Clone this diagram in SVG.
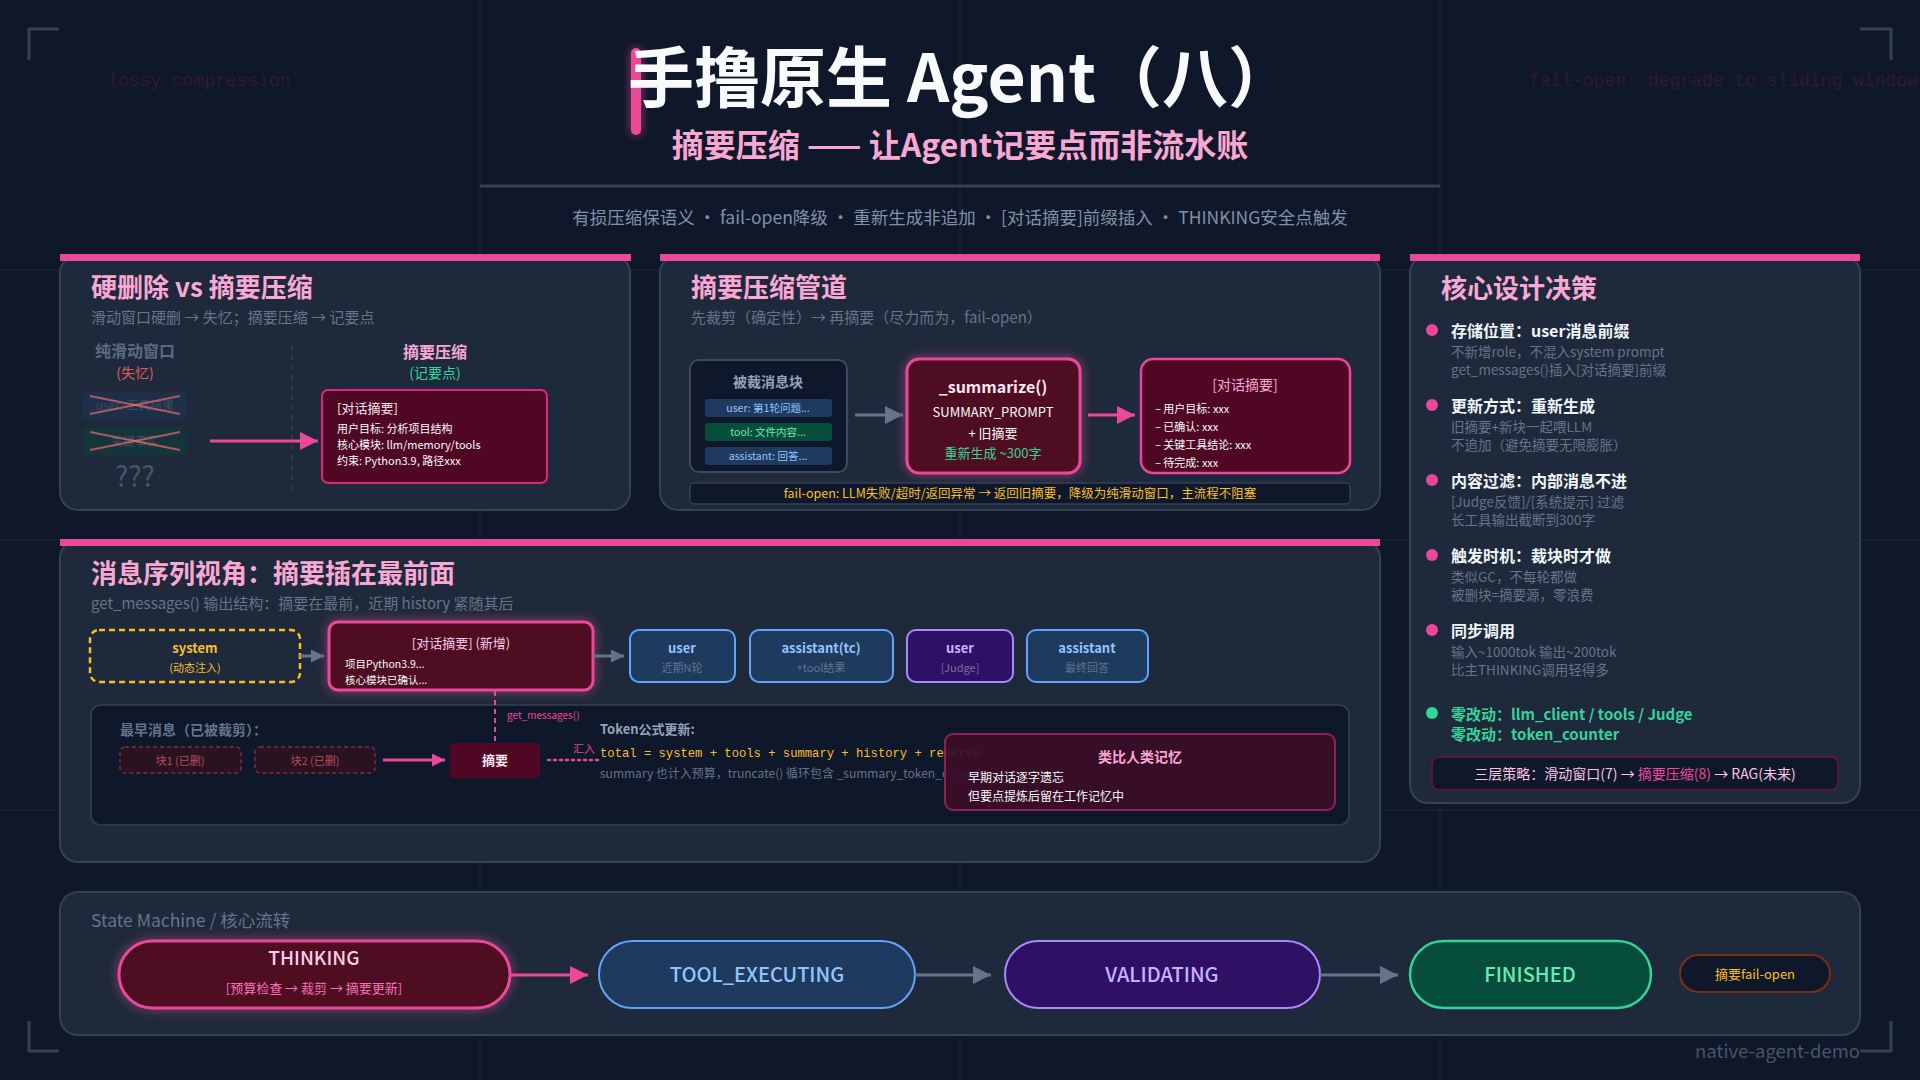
<svg xmlns="http://www.w3.org/2000/svg" width="1920" height="1080" viewBox="0 0 1920 1080">
<defs>
<style>
text{font-family:"Noto Sans CJK SC","Noto Sans",sans-serif}
.mono{font-family:"Liberation Mono","DejaVu Sans Mono",monospace}
.panel{fill:#1e293b;stroke:#334155;stroke-width:2}
.pbar{fill:#ec4899}
.ptitle{font-size:26px;font-weight:700;fill:#f9a8d4}
.psub{font-size:15px;fill:#64748b}
.grid{stroke:#1a2435;stroke-width:1.5}
.corner{fill:none;stroke:#334155;stroke-width:3}
.pinkbox{fill:#500724;stroke:#ec4899;stroke-width:3}
.bluebox{fill:#1e3a5f;stroke:#60a5fa;stroke-width:2}
.purplebox{fill:#2e1065;stroke:#a78bfa;stroke-width:2}
.greenbox{fill:#064e3b;stroke:#34d399;stroke-width:2.5}
.dot{fill:#ec4899}
.dtitle{font-size:16px;font-weight:700;fill:#f1f5f9}
.ddesc{font-size:13.5px;fill:#64748b}
.c{text-anchor:middle}
.wline{fill:#f8fafc}
.state{font-size:20px;font-weight:500}
.pk-line{stroke:#ec4899;stroke-width:3;fill:none}
.gy-line{stroke:#64748b;stroke-width:3;fill:none}
</style>
<filter id="glow" x="-30%" y="-40%" width="160%" height="180%">
<feDropShadow dx="0" dy="0" stdDeviation="6" flood-color="#ec4899" flood-opacity="0.55"/>
</filter>
<filter id="glowbar" x="-200%" y="-20%" width="500%" height="140%">
<feDropShadow dx="0" dy="0" stdDeviation="5" flood-color="#ec4899" flood-opacity="0.7"/>
</filter>
<marker id="apL" markerUnits="userSpaceOnUse" markerWidth="18" markerHeight="18" refX="18" refY="9" orient="auto"><path d="M0,0 L18,9 L0,18 z" fill="#ec4899"/></marker>
<marker id="agL" markerUnits="userSpaceOnUse" markerWidth="18" markerHeight="18" refX="18" refY="9" orient="auto"><path d="M0,0 L18,9 L0,18 z" fill="#64748b"/></marker>
<marker id="apS" markerUnits="userSpaceOnUse" markerWidth="13" markerHeight="13" refX="13" refY="6.5" orient="auto"><path d="M0,0 L13,6.5 L0,13 z" fill="#ec4899"/></marker>
<marker id="agS" markerUnits="userSpaceOnUse" markerWidth="13" markerHeight="13" refX="13" refY="6.5" orient="auto"><path d="M0,0 L13,6.5 L0,13 z" fill="#64748b"/></marker>
</defs>

<rect x="0" y="0" width="1920" height="1080" fill="#0f172a"/>
<g id="grid">
<line class="grid" x1="480" y1="0" x2="480" y2="1080"/>
<line class="grid" x1="960" y1="0" x2="960" y2="1080"/>
<line class="grid" x1="1440" y1="0" x2="1440" y2="1080"/>
<line class="grid" x1="0" y1="270" x2="1920" y2="270"/>
<line class="grid" x1="0" y1="540" x2="1920" y2="540"/>
<line class="grid" x1="0" y1="810" x2="1920" y2="810"/>
</g>
<g id="corners">
<path class="corner" d="M29,60 V29 H59"/>
<path class="corner" d="M1860,29 H1891 V60"/>
<path class="corner" d="M29,1021 V1051 H59"/>
<path class="corner" d="M1860,1051 H1891 V1021"/>
</g>
<text class="mono" x="107" y="86" font-size="18" fill="#be185d" fill-opacity="0.22">lossy compression</text>
<text class="mono" x="1529" y="86" font-size="18" fill="#be185d" fill-opacity="0.22">fail-open: degrade to sliding window</text>

<g id="header">
<rect x="631" y="48" width="10" height="87" rx="5" fill="#ec4899" filter="url(#glowbar)"/>
<text x="961" y="102" class="c" font-size="66" font-weight="700" fill="#f8fafc">手撸原生 Agent（八）</text>
<text x="960" y="157" class="c" font-size="32" font-weight="700" fill="#f9a8d4">摘要压缩 —— 让Agent记要点而非流水账</text>
<line x1="480" y1="186" x2="1440" y2="186" stroke="#334155" stroke-width="3"/>
<text x="960" y="224" class="c" font-size="17.5" fill="#8190a5">有损压缩保语义 · fail-open降级 · 重新生成非追加 · [对话摘要]前缀插入 · THINKING安全点触发</text>
</g>

<!-- Panel 1 -->
<g id="panel-hard-vs-summary">
<rect class="panel" x="60" y="255" width="570" height="255" rx="18"/>
<rect class="pbar" x="60" y="254" width="571" height="7"/>
<text class="ptitle" x="91" y="297">硬删除 vs 摘要压缩</text>
<text class="psub" x="91" y="323">滑动窗口硬删 → 失忆；摘要压缩 → 记要点</text>
<text x="135" y="357" class="c" font-size="16" font-weight="700" fill="#5b6b82">纯滑动窗口</text>
<text x="135" y="378" class="c" font-size="14" fill="#e25c5c">(失忆)</text>
<rect x="83" y="392" width="104" height="27" rx="4" fill="#1e3a5f" fill-opacity="0.4"/>
<text x="135" y="410" class="c" font-size="12" fill="#3c4a5e">user: 工具结果</text>
<rect x="83" y="427" width="104" height="28" rx="4" fill="#064e3b" fill-opacity="0.35"/>
<text x="135" y="446" class="c" font-size="12" fill="#3c4a5e">关键事实</text>
<g stroke="#f87171" stroke-opacity="0.65" stroke-width="2">
<line x1="90" y1="396" x2="180" y2="414"/><line x1="90" y1="414" x2="180" y2="396"/>
<line x1="90" y1="432" x2="180" y2="450"/><line x1="90" y1="450" x2="180" y2="432"/>
</g>
<text x="135" y="487" class="c" font-size="28" fill="#475569">???</text>
<line x1="292" y1="345" x2="292" y2="493" stroke="#334155" stroke-width="1.5" stroke-dasharray="5,5"/>
<text x="435" y="358" class="c" font-size="16" font-weight="700" fill="#f9a8d4">摘要压缩</text>
<text x="435" y="378" class="c" font-size="14" fill="#34d399">(记要点)</text>
</g>
<g id="node-summary-example">
<rect x="322" y="390" width="225" height="93" rx="6" fill="#500724" stroke="#db2777" stroke-width="2"/>
<text x="337" y="413" font-size="13" fill="#fce7f3">[对话摘要]</text>
<text x="337" y="433" font-size="11" class="wline">用户目标: 分析项目结构</text>
<text x="337" y="449" font-size="11" class="wline">核心模块: llm/memory/tools</text>
<text x="337" y="465" font-size="11" class="wline">约束: Python3.9, 路径xxx</text>
</g>

<!-- Panel 2 -->
<g id="panel-pipeline">
<rect class="panel" x="660" y="255" width="720" height="255" rx="18"/>
<rect class="pbar" x="660" y="254" width="720" height="7"/>
<text class="ptitle" x="691" y="297">摘要压缩管道</text>
<text class="psub" x="691" y="323">先裁剪（确定性）→ 再摘要（尽力而为，fail-open）</text>
</g>
<g id="node-trimmed">
<rect x="690" y="360" width="157" height="112" rx="9" fill="#0f172a" stroke="#3b4a60" stroke-width="2"/>
<text x="768" y="387" class="c" font-size="14" font-weight="700" fill="#94a3b8">被裁消息块</text>
<rect x="705" y="399" width="127" height="18" rx="3" fill="#1e3a5f"/>
<text x="768" y="412" class="c" font-size="10.5" fill="#93c5fd">user: 第1轮问题...</text>
<rect x="705" y="423" width="127" height="18" rx="3" fill="#064e3b"/>
<text x="768" y="436" class="c" font-size="10.5" fill="#6ee7b7">tool: 文件内容...</text>
<rect x="705" y="447" width="127" height="18" rx="3" fill="#1e3a5f"/>
<text x="768" y="460" class="c" font-size="10.5" fill="#93c5fd">assistant: 回答...</text>
</g>
<g id="node-summarize">
<rect class="pinkbox" x="907" y="359" width="173" height="114" rx="12" filter="url(#glow)"/>
<text x="993" y="393" class="c" font-size="16" font-weight="700" fill="#fce7f3">_summarize()</text>
<text x="993" y="417" class="c" font-size="13" fill="#f8fafc">SUMMARY_PROMPT</text>
<text x="993" y="438" class="c" font-size="13" fill="#f8fafc">+ 旧摘要</text>
<text x="993" y="458" class="c" font-size="13" fill="#34d399">重新生成 ~300字</text>
</g>
<g id="node-summary-out">
<rect x="1141" y="359" width="209" height="114" rx="12" fill="#500724" stroke="#ec4899" stroke-width="2.5"/>
<text x="1245" y="390" class="c" font-size="14" fill="#f9a8d4">[对话摘要]</text>
<text x="1155" y="413" font-size="11" fill="#f8fafc">– 用户目标: xxx</text>
<text x="1155" y="431" font-size="11" fill="#f8fafc">– 已确认: xxx</text>
<text x="1155" y="449" font-size="11" fill="#f8fafc">– 关键工具结论: xxx</text>
<text x="1155" y="467" font-size="11" fill="#f8fafc">– 待完成: xxx</text>
</g>
<g id="node-failopen-bar">
<rect x="690" y="483" width="660" height="21" rx="4" fill="#0f172a" stroke="#334155" stroke-width="1.5"/>
<text x="1020" y="498" class="c" font-size="12.5" fill="#fbbf24">fail-open: LLM失败/超时/返回异常 → 返回旧摘要，降级为纯滑动窗口，主流程不阻塞</text>
</g>

<!-- Panel 3 -->
<g id="panel-decisions">
<rect class="panel" x="1410" y="255" width="450" height="548" rx="18"/>
<rect class="pbar" x="1410" y="254" width="450" height="7"/>
<text class="ptitle" x="1441" y="298">核心设计决策</text>
<circle class="dot" cx="1432" cy="330" r="6"/>
<text class="dtitle" x="1451" y="337">存储位置：user消息前缀</text>
<text class="ddesc" x="1451" y="357">不新增role，不混入system prompt</text>
<text class="ddesc" x="1451" y="375">get_messages()插入[对话摘要]前缀</text>
<circle class="dot" cx="1432" cy="405" r="6"/>
<text class="dtitle" x="1451" y="412">更新方式：重新生成</text>
<text class="ddesc" x="1451" y="432">旧摘要+新块一起喂LLM</text>
<text class="ddesc" x="1451" y="450">不追加（避免摘要无限膨胀）</text>
<circle class="dot" cx="1432" cy="480" r="6"/>
<text class="dtitle" x="1451" y="487">内容过滤：内部消息不进</text>
<text class="ddesc" x="1451" y="507">[Judge反馈]/[系统提示] 过滤</text>
<text class="ddesc" x="1451" y="525">长工具输出截断到300字</text>
<circle class="dot" cx="1432" cy="555" r="6"/>
<text class="dtitle" x="1451" y="562">触发时机：裁块时才做</text>
<text class="ddesc" x="1451" y="582">类似GC，不每轮都做</text>
<text class="ddesc" x="1451" y="600">被删块=摘要源，零浪费</text>
<circle class="dot" cx="1432" cy="630" r="6"/>
<text class="dtitle" x="1451" y="637">同步调用</text>
<text class="ddesc" x="1451" y="657">输入~1000tok 输出~200tok</text>
<text class="ddesc" x="1451" y="675">比主THINKING调用轻得多</text>
<circle cx="1432" cy="713" r="6" fill="#34d399"/>
<text x="1451" y="720" font-size="15" font-weight="700" fill="#34d399">零改动：llm_client / tools / Judge</text>
<text x="1451" y="740" font-size="15" font-weight="700" fill="#34d399">零改动：token_counter</text>
<rect x="1432" y="757" width="406" height="33" rx="7" fill="#0f172a" stroke="#6b1538" stroke-width="1.5"/>
<text x="1635" y="779" class="c" font-size="14" fill="#f9c5e0">三层策略：滑动窗口(7) → <tspan fill="#ec4899">摘要压缩(8)</tspan> → RAG(未来)</text>
</g>

<!-- Panel 4 -->
<g id="panel-sequence">
<rect class="panel" x="60" y="540" width="1320" height="322" rx="18"/>
<rect class="pbar" x="60" y="539" width="1320" height="7"/>
<text class="ptitle" x="91" y="583">消息序列视角：摘要插在最前面</text>
<text class="psub" x="91" y="609">get_messages() 输出结构：摘要在最前，近期 history 紧随其后</text>
<rect x="91" y="705" width="1258" height="120" rx="10" fill="#0f172a" stroke="#334155" stroke-width="1.5"/>
<text x="120" y="735" font-size="14" font-weight="700" fill="#64748b">最早消息（已被裁剪）：</text>
<text x="600" y="734" font-size="13" font-weight="700" fill="#94a3b8">Token公式更新:</text>
<text x="600" y="757" class="mono" font-size="12.2" fill="#fbbf24">total = system + tools + summary + history + reserve</text>
<text x="600" y="778" font-size="12" fill="#64748b">summary 也计入预算，truncate() 循环包含 _summary_token_count()</text>
</g>
<g id="node-system">
<rect x="90" y="630" width="210" height="52" rx="9" fill="none" stroke="#fbbf24" stroke-width="2.5" stroke-dasharray="6,4"/>
<text x="195" y="653" class="c" font-size="13" font-weight="700" fill="#fbbf24">system</text>
<text x="195" y="672" class="c" font-size="11" fill="#fbbf24">(动态注入)</text>
</g>
<g id="node-seq-summary">
<rect class="pinkbox" x="329" y="622" width="264" height="68" rx="9" filter="url(#glow)"/>
<text x="461" y="648" class="c" font-size="13" fill="#fbcfe8">[对话摘要] (新增)</text>
<text x="345" y="668" font-size="10.5" fill="#f8fafc">项目Python3.9...</text>
<text x="345" y="684" font-size="10.5" fill="#f8fafc">核心模块已确认...</text>
</g>
<g id="node-user1">
<rect class="bluebox" x="630" y="630" width="105" height="52" rx="9"/>
<text x="682" y="653" class="c" font-size="13" font-weight="700" fill="#93c5fd">user</text>
<text x="682" y="672" class="c" font-size="11" fill="#64748b">近期N轮</text>
</g>
<g id="node-assistant-tc">
<rect class="bluebox" x="750" y="630" width="143" height="52" rx="9"/>
<text x="821" y="653" class="c" font-size="13" font-weight="700" fill="#93c5fd">assistant(tc)</text>
<text x="821" y="672" class="c" font-size="11" fill="#64748b">+tool结果</text>
</g>
<g id="node-user-judge">
<rect class="purplebox" x="907" y="630" width="106" height="52" rx="9"/>
<text x="960" y="653" class="c" font-size="13" font-weight="700" fill="#c4b5fd">user</text>
<text x="960" y="672" class="c" font-size="11" fill="#7c6fa0">[Judge]</text>
</g>
<g id="node-assistant">
<rect class="bluebox" x="1027" y="630" width="121" height="52" rx="9"/>
<text x="1087" y="653" class="c" font-size="13" font-weight="700" fill="#93c5fd">assistant</text>
<text x="1087" y="672" class="c" font-size="11" fill="#64748b">最终回答</text>
</g>
<g id="node-block1">
<rect x="120" y="747" width="121" height="26" rx="5" fill="#2a1320" stroke="#7f2d3f" stroke-width="1.5" stroke-dasharray="4,3"/>
<text x="180" y="765" class="c" font-size="11" fill="#b94a5a">块1 (已删)</text>
</g>
<g id="node-block2">
<rect x="255" y="747" width="120" height="26" rx="5" fill="#2a1320" stroke="#7f2d3f" stroke-width="1.5" stroke-dasharray="4,3"/>
<text x="315" y="765" class="c" font-size="11" fill="#b94a5a">块2 (已删)</text>
</g>
<g id="node-mini-summary">
<rect x="450" y="743" width="90" height="35" rx="4" fill="#500724"/>
<text x="495" y="765" class="c" font-size="13" font-weight="700" fill="#fce7f3">摘要</text>
</g>
<g id="node-analogy">
<rect x="945" y="734" width="390" height="76" rx="8" fill="#3b0d27" fill-opacity="0.92" stroke="#8a2456" stroke-width="2"/>
<text x="1140" y="762" class="c" font-size="14" font-weight="700" fill="#f9a8d4">类比人类记忆</text>
<text x="968" y="782" font-size="12" fill="#f8fafc">早期对话逐字遗忘</text>
<text x="968" y="801" font-size="12" fill="#f8fafc">但要点提炼后留在工作记忆中</text>
</g>

<!-- Panel 5 -->
<g id="panel-state-machine">
<rect class="panel" x="60" y="892" width="1800" height="143" rx="18"/>
<text x="91" y="927" font-size="17.5" fill="#64748b">State Machine / 核心流转</text>
</g>
<g id="node-thinking">
<rect class="pinkbox" x="119" y="941" width="391" height="67" rx="33.5" filter="url(#glow)"/>
<text x="314" y="965" class="c" font-size="19" font-weight="500" fill="#fbcfe8">THINKING</text>
<text x="314" y="993" class="c" font-size="13" fill="#f472b6">[预算检查 → 裁剪 → 摘要更新]</text>
</g>
<g id="node-tool-executing">
<rect class="bluebox" x="599" y="941" width="316" height="67" rx="33.5" stroke-width="2.5"/>
<text x="757" y="982" class="c state" fill="#93c5fd">TOOL_EXECUTING</text>
</g>
<g id="node-validating">
<rect class="purplebox" x="1005" y="941" width="315" height="67" rx="33.5" stroke-width="2.5"/>
<text x="1162" y="982" class="c state" fill="#c4b5fd">VALIDATING</text>
</g>
<g id="node-finished">
<rect class="greenbox" x="1410" y="941" width="241" height="67" rx="33.5"/>
<text x="1530" y="982" class="c state" fill="#6ee7b7">FINISHED</text>
</g>
<g id="node-failopen-pill">
<rect x="1680" y="955" width="150" height="37" rx="18.5" fill="#0f172a" stroke="#7c2d12" stroke-width="2"/>
<text x="1755" y="979" class="c" font-size="13" fill="#fbbf24">摘要fail-open</text>
</g>
<text x="1860" y="1058" text-anchor="end" font-size="18.5" fill="#475569">native-agent-demo</text>

<g id="connectors">
<line class="pk-line" x1="210" y1="441" x2="318" y2="441" marker-end="url(#apL)"/>
<line class="gy-line" x1="855" y1="415" x2="903" y2="415" marker-end="url(#agL)"/>
<line class="pk-line" x1="1088" y1="415" x2="1135" y2="415" marker-end="url(#apL)"/>
<line class="gy-line" x1="300" y1="656" x2="324" y2="656" marker-end="url(#agS)"/>
<line class="gy-line" x1="593" y1="656" x2="624" y2="656" marker-end="url(#agS)"/>
<line x1="495" y1="691" x2="495" y2="743" stroke="#ec4899" stroke-width="2" stroke-dasharray="5,4"/>
<text x="507" y="719" font-size="10" fill="#ec4899">get_messages()</text>
<line class="pk-line" x1="383" y1="760" x2="445" y2="760" marker-end="url(#apS)" stroke-width="2.5"/>
<line x1="548" y1="760" x2="600" y2="760" stroke="#ec4899" stroke-width="2.5" stroke-dasharray="2,4" stroke-linecap="round"/>
<text x="573" y="753" font-size="11" fill="#ec4899">汇入</text>
<line class="pk-line" x1="510" y1="975" x2="588" y2="975" marker-end="url(#apL)"/>
<line class="gy-line" x1="915" y1="975" x2="991" y2="975" marker-end="url(#agL)"/>
<line class="gy-line" x1="1320" y1="975" x2="1398" y2="975" marker-end="url(#agL)"/>
</g>
</svg>
